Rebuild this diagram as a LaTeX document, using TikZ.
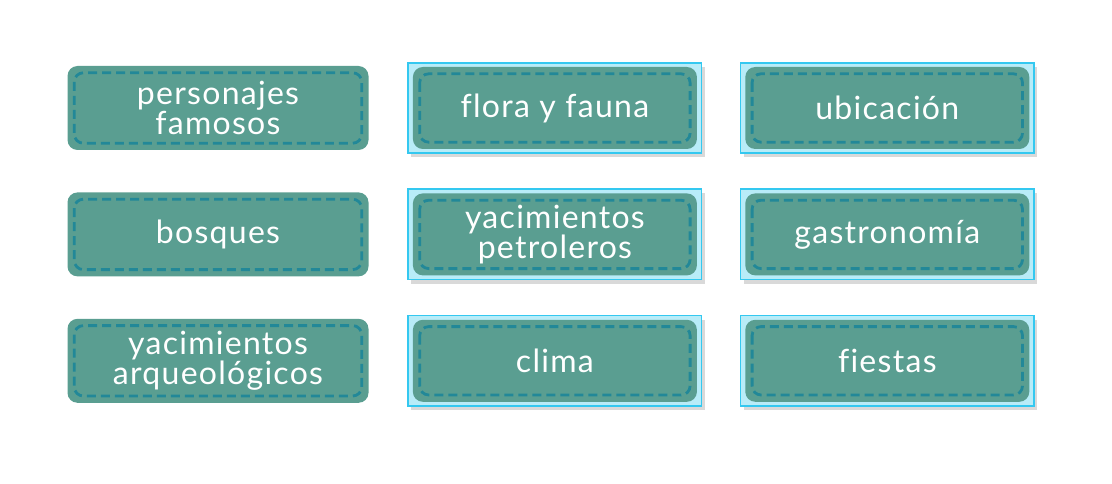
\documentclass[tikz,border=0pt]{standalone}
\usepackage{fontspec}
\setmainfont{Lato}[LetterSpace=4, Ligatures=NoCommon]
\usetikzlibrary{positioning, fit, shadows, backgrounds}

\definecolor{cardgreen}{RGB}{90,158,145}
\definecolor{stitchcol}{RGB}{34,136,152}
\definecolor{pickfill}{RGB}{184,236,248}
\definecolor{pickline}{RGB}{52,200,240}

\begin{document}
\begin{tikzpicture}[x=1pt, y=-1pt,
            node distance = 42pt and 44pt,
            card/.style = {fill=cardgreen, rounded corners=10pt, inner sep=0pt,
                    minimum width=284pt, minimum height=82pt,
                    text=white, align=center,
                    font=\fontsize{32}{25}\selectfont},
            wide/.style = {card, minimum width=301pt, minimum height=84pt},
            pick/.style = {draw=pickline, fill=pickfill, line width=1.5pt,
                    inner xsep=4.5pt, inner ysep=4pt,
                    drop shadow={opacity=0.3, shadow xshift=3pt, shadow yshift=-4pt}},
            stitch/.style = {draw=stitchcol, line width=2.8pt, rounded corners=9pt,
                    dash pattern=on 9pt off 5pt}]

        \useasboundingbox (0,0) rectangle (1112,484);

        % left column
        \node [wide]            (L1) at (218,108) {personajes\\famosos};
        \node [wide,
            below =of L1]       (L2) {bosques};
        \node [wide,
            below =of L2]       (L3) {yacimientos\\arqueológicos};
        % middle column
        \node [card,
            right =of L1]       (M1) {flora y fauna};
        \node [card,
            right =of L2]       (M2) {yacimientos\\petroleros};
        \node [card,
            right =of L3]       (M3) {clima};
        % right column
        \node [card,
            right =48pt of M1]  (R1) {ubicación};
        \node [card,
            right =48pt of M2]  (R2) {gastronomía};
        \node [card,
            right =48pt of M3]  (R3) {fiestas};

        % stitches
        \foreach \c in {L1,L2,L3,M1,M2,M3,R1,R2,R3}
            \draw [stitch] ([xshift=7pt,yshift=-7pt]\c.north west)
                rectangle ([xshift=-7pt,yshift=7pt]\c.south east);

        % selected ones
        \begin{scope}[on background layer]
            \foreach \c in {M1,M2,M3,R1,R2,R3}
                \node [pick, fit=(\c)] (S\c) {};
        \end{scope}
    \end{tikzpicture}
\end{document}
